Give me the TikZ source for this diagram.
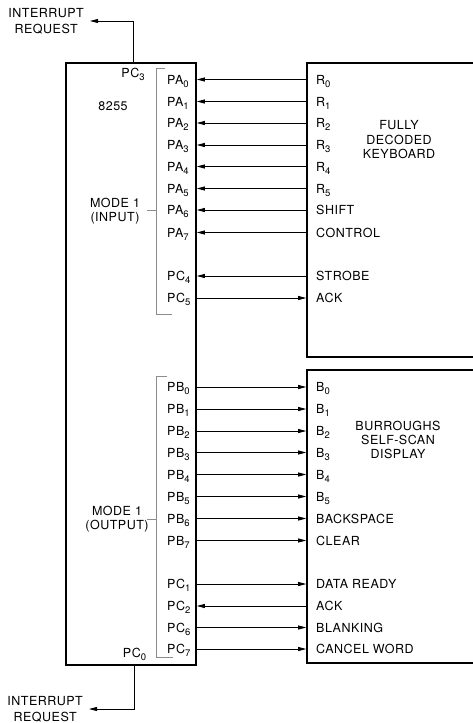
\documentclass[tikz,border=0pt]{standalone}
\usepackage{fontspec}
\setmainfont{TeX Gyre Heros}[LetterSpace=4]
\usetikzlibrary{arrows.meta}
\newcommand{\idx}[1]{\raisebox{-3pt}{\fontsize{9.5}{10}\selectfont #1}}

\begin{document}
\begin{tikzpicture}[x=1pt, y=1pt,
   every node/.style={font=\fontsize{12.5}{15}\selectfont, inner sep=0pt},
   box/.style={draw, line width=1.6pt, minimum width=#1},
   lines/.style={align=center, font=\fontsize{12.5}{#1}\selectfont},
   pin/.style={anchor=base west},
   arr/.style={-{Triangle[length=8pt, width=4pt]}, line width=0.8pt},
   bracket/.style={draw=black!45, line width=0.6pt}]
  \useasboundingbox (0,0) rectangle (472,-723);
  % blocks
  \node[box=130pt, minimum height=602pt] (ppi) at (131,-364) {};
  \node[box=193pt, minimum height=294pt] (kbd) at (403.5,-210) {};
  \node[box=193pt, minimum height=293pt] (disp) at (403.5,-516.5) {};
  \node (chip) at (113,-106) {8255};
  \node[lines=14.5] (kbdname) at (399,-140) {FULLY\\DECODED\\KEYBOARD};
  \node[lines=14] (dispname) at (398,-440) {BURROUGHS\\SELF-SCAN\\DISPLAY};
  \node[lines=13.5] (modein) at (115,-211) {MODE 1\\(INPUT)};
  \node[lines=14.5] (modeout) at (117,-519) {MODE 1\\(OUTPUT)};
  % port A side
  \foreach \i/\y/\pin/\dev in {0/79.5/PA\idx{0}/R\idx{0}, 1/101.5/PA\idx{1}/R\idx{1},
      2/123/PA\idx{2}/R\idx{2}, 3/145/PA\idx{3}/R\idx{3}, 4/166.5/PA\idx{4}/R\idx{4},
      5/188.5/PA\idx{5}/R\idx{5}, 6/210/PA\idx{6}/SHIFT, 7/232.5/PA\idx{7}/CONTROL,
      8/276/PC\idx{4}/STROBE, 9/298/PC\idx{5}/ACK} {
    \coordinate (k\i) at (0,-\y);
    \node[pin] (pa\i) at (167,-\y-4.5) {\pin};
    \node[pin] (kb\i) at (316,-\y-4.5) {\dev};
  }
  % port B side
  \foreach \i/\y/\pin/\dev in {0/387/PB\idx{0}/B\idx{0}, 1/409/PB\idx{1}/B\idx{1},
      2/431/PB\idx{2}/B\idx{2}, 3/452.5/PB\idx{3}/B\idx{3}, 4/474.5/PB\idx{4}/B\idx{4},
      5/496.5/PB\idx{5}/B\idx{5}, 6/518.5/PB\idx{6}/BACKSPACE, 7/540.5/PB\idx{7}/CLEAR,
      8/584/PC\idx{1}/DATA READY, 9/606/PC\idx{2}/ACK, 10/627.5/PC\idx{6}/BLANKING,
      11/649/PC\idx{7}/CANCEL WORD} {
    \coordinate (d\i) at (0,-\y);
    \node[pin] (pb\i) at (167,-\y-4.5) {\pin};
    \node[pin] (ds\i) at (316,-\y-4.5) {\dev};
  }
  \foreach \i in {0,...,8} \draw[arr] (kbd.west |- k\i) -- (ppi.east |- k\i);
  \draw[arr] (ppi.east |- k9) -- (kbd.west |- k9);
  \foreach \i in {0,1,2,3,4,5,6,7,8,10,11} \draw[arr] (ppi.east |- d\i) -- (disp.west |- d\i);
  \draw[arr] (disp.west |- d9) -- (ppi.east |- d9);
  % mode brackets
  \draw[bracket] (165,-68) -| (156,-314) -- (172,-314);
  \draw[bracket] (147,-210) -- (156,-210);
  \draw[bracket] (167,-376) -| (156,-657) -- (173,-657);
  \draw[bracket] (147,-519) -- (156,-519);
  % interrupt lines
  \node[anchor=base] (pc3) at (133,-77) {PC\idx{3}};
  \node[anchor=base] (pc0) at (134.5,-657) {PC\idx{0}};
  \node[lines=16, anchor=east, inner xsep=6pt] (irqA) at (90,-21) {INTERRUPT\\REQUEST};
  \node[lines=16, anchor=east, inner xsep=6pt] (irqB) at (89,-709) {INTERRUPT\\REQUEST};
  \draw[arr] (ppi.north -| pc3) |- (irqA.east);
  \draw[arr] (ppi.south -| pc0) |- (irqB.east);
\end{tikzpicture}
\end{document}
